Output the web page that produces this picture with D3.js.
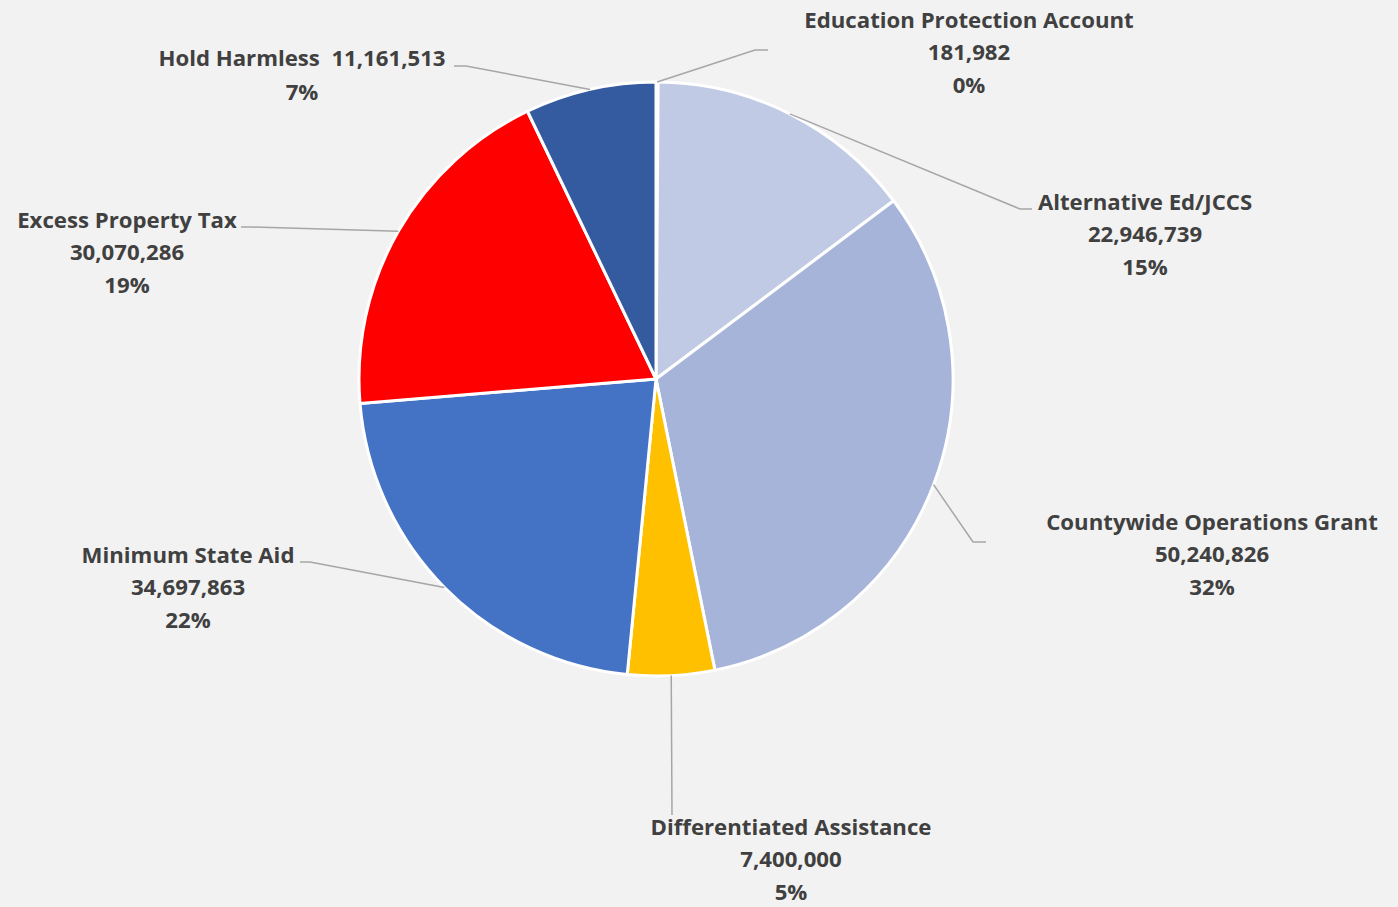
<!DOCTYPE html>
<html>
<head>
<meta charset="utf-8">
<script src="https://cdn.jsdelivr.net/npm/d3@7/dist/d3.min.js"></script>
<style>
  html, body { margin: 0; padding: 0; background: #f2f2f2; }
  svg { display: block; }
  .lbl { font-family: "Open Sans", Lato, sans-serif; font-weight: 700; fill: #404040; }
</style>
</head>
<body>
<svg id="chart" width="1398" height="907"></svg>
<script>
// Revenue sources, listed clockwise from 12 o'clock
const categories = [
  "Education Protection Account",
  "Alternative Ed/JCCS",
  "Countywide Operations Grant",
  "Differentiated Assistance",
  "Minimum State Aid",
  "Excess Property Tax",
  "Hold Harmless"
];
const amounts = [181982, 22946739, 50240826, 7400000, 34697863, 30070286, 11161513];
const sliceColors = ["#dde2f0", "#c1cae4", "#a7b4da", "#ffc000", "#4472c4", "#ff0000", "#345b9f"];

// Label placement: text centre (x, first line y) and leader elbow/end points
const labelLayout = [
  { x: 969,  y: 19,  elbow: [755, 50],  end: [768, 50] },
  { x: 1145, y: 201, elbow: [1020, 209], end: [1032, 209] },
  { x: 1212, y: 521, elbow: [973, 542], end: [986, 542] },
  { x: 791,  y: 826, elbow: [672, 815], end: [672, 815] },
  { x: 188,  y: 554, elbow: [310, 562], end: [300, 562] },
  { x: 127,  y: 219, elbow: [250, 227], end: [241, 227] },
  { x: 302,  y: 57,  elbow: [466, 66],  end: [454, 66], inline: true }
];

const W = 1398, H = 907;
const cx = 656, cy = 379, R = 297;
const lineGap = 32.5;

const svg = d3.select("#chart");
svg.append("rect").attr("width", W).attr("height", H).attr("fill", "#f2f2f2");

const data = categories.map((name, i) => ({ name, value: amounts[i], color: sliceColors[i], layout: labelLayout[i] }));
const total = d3.sum(amounts);

const pie = d3.pie().value(d => d.value).sort(null);
const arcs = pie(data);
const arc = d3.arc().innerRadius(0).outerRadius(R);

const g = svg.append("g").attr("transform", `translate(${cx},${cy})`);

g.selectAll("path.slice")
  .data(arcs)
  .join("path")
  .attr("class", "slice")
  .attr("d", arc)
  .attr("fill", d => d.data.color)
  .attr("stroke", "#ffffff")
  .attr("stroke-width", 3)
  .attr("stroke-linejoin", "round");

// Leader lines from the slice's outer edge at its mid angle
const fmtNum = d3.format(",");
const fmtPct = d3.format(".0%");

svg.append("g").selectAll("polyline")
  .data(arcs)
  .join("polyline")
  .attr("points", d => {
    const a = (d.startAngle + d.endAngle) / 2;
    const sx = cx + R * Math.sin(a), sy = cy - R * Math.cos(a);
    const L = d.data.layout;
    return [[sx, sy], L.elbow, L.end].map(p => p.join(",")).join(" ");
  })
  .attr("fill", "none")
  .attr("stroke", "#a6a6a6")
  .attr("stroke-width", 1.5);

// Labels: name, value, percentage
const labels = svg.append("g").selectAll("text")
  .data(arcs)
  .join("text")
  .attr("class", "lbl")
  .attr("text-anchor", "middle")
  .attr("font-size", 22.2);

labels.each(function(d) {
  const L = d.data.layout;
  const t = d3.select(this);
  const lines = L.inline
    ? [d.data.name + "\u00a0\u00a0" + fmtNum(d.data.value), fmtPct(d.data.value / total)]
    : [d.data.name, fmtNum(d.data.value), fmtPct(d.data.value / total)];
  lines.forEach((s, i) => {
    t.append("tspan")
      .attr("x", L.x)
      .attr("y", L.y + i * (L.inline ? 34 : lineGap))
      .attr("dominant-baseline", "central")
      .text(s);
  });
});
</script>
</body>
</html>
